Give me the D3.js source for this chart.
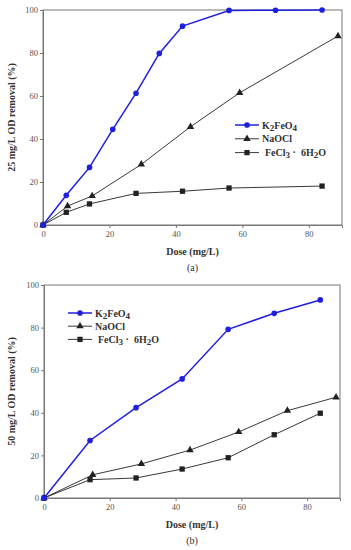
<!DOCTYPE html>
<html><head><meta charset="utf-8">
<script src="https://cdn.jsdelivr.net/npm/d3@7"></script>
<style>body{margin:0;background:#fff}svg{display:block}</style>
</head><body>
<svg id="c" width="351" height="550"></svg>
<script>
// Panel (a): 25 mg/L
const a_k2_x = [0, 7, 14, 21, 28, 35, 42, 56, 70, 84];
const a_k2_y = [0, 13.8, 26.8, 44.5, 61.3, 79.8, 92.5, 99.8, 99.9, 100];
const a_na_x = [0, 7.4, 14.8, 29.6, 44.4, 59.2, 88.8];
const a_na_y = [0, 8.8, 13.5, 28.2, 45.7, 61.5, 87.9];
const a_fe_x = [0, 7, 14, 28, 42, 56, 84];
const a_fe_y = [0, 5.9, 9.8, 14.7, 15.7, 17.2, 18.1];
// Panel (b): 50 mg/L
const b_k2_x = [0, 14, 28, 42, 56, 70, 84];
const b_k2_y = [0, 27, 42.4, 55.9, 79.2, 86.7, 93];
const b_na_x = [0, 14.8, 29.6, 44.4, 59.2, 74, 88.8];
const b_na_y = [0, 10.9, 16, 22.5, 31, 41, 47.3];
const b_fe_x = [0, 14, 28, 42, 56, 70, 84];
const b_fe_y = [0, 8.6, 9.4, 13.6, 18.9, 29.7, 39.8];
const xTicks = [0, 20, 40, 60, 80];
const yTicks = [0, 20, 40, 60, 80, 100];
const legendNames = ["K2FeO4", "NaOCl", "FeCl3 ·  6H2O"];

const svg = d3.select("#c");
const FONT = "'Liberation Serif','Times New Roman',serif";

function panel(opt) {
  const x = d3.scaleLinear().domain([0, 90]).range([opt.l, opt.r]);
  const y = d3.scaleLinear().domain([0, 100]).range([opt.b, opt.t]);
  const g = svg.append("g");
  g.append("rect").attr("x", opt.l).attr("y", opt.t).attr("width", opt.r - opt.l).attr("height", opt.b - opt.t)
    .attr("fill", "none").attr("stroke", "#777").attr("stroke-width", 1);
  const xa = g.append("g").attr("transform", `translate(0,${opt.b})`)
    .call(d3.axisBottom(x).tickValues(xTicks).tickSize(3).tickPadding(3));
  const ya = g.append("g").attr("transform", `translate(${opt.l},0)`)
    .call(d3.axisLeft(y).tickValues(yTicks).tickSize(3).tickPadding(2));
  [xa, ya].forEach(ax => {
    ax.select(".domain").attr("stroke", "#777");
    ax.selectAll(".tick line").attr("stroke", "#777");
    ax.selectAll("text").attr("font-family", FONT).attr("font-size", 8.5).attr("fill", "#555");
  });
  const series = [
    {xs: opt.k2x, ys: opt.k2y, color: "#1f1fe0", w: 1.5, m: "circle"},
    {xs: opt.nax, ys: opt.nay, color: "#222", w: 0.9, m: "triangle"},
    {xs: opt.fex, ys: opt.fey, color: "#222", w: 0.9, m: "square"}
  ];
  const line = d3.line().x(d => x(d[0])).y(d => y(d[1]));
  series.slice().reverse().forEach(s => {
    const pts = s.xs.map((v, i) => [v, s.ys[i]]);
    g.append("path").datum(pts).attr("d", line).attr("fill", "none").attr("stroke", s.color).attr("stroke-width", s.w);
  });
  const sym = {circle: d3.symbolCircle, triangle: d3.symbolTriangle, square: d3.symbolSquare};
  const size = {circle: 25, triangle: 24, square: 28};
  series.slice().reverse().forEach(s => {
    const pts = s.xs.map((v, i) => [v, s.ys[i]]);
    g.selectAll(null).data(pts).enter().append("path")
      .attr("d", d3.symbol().type(sym[s.m]).size(size[s.m]))
      .attr("transform", d => `translate(${x(d[0])},${y(d[1])})`)
      .attr("fill", s.color);
  });
  series.forEach((s, i) => {
    const ly = opt.ly + i * opt.lgap;
    g.append("line").attr("x1", opt.lx).attr("x2", opt.lx + 24).attr("y1", ly).attr("y2", ly)
      .attr("stroke", s.color).attr("stroke-width", s.w);
    g.append("path").attr("d", d3.symbol().type(sym[s.m]).size(size[s.m]))
      .attr("transform", `translate(${opt.lx + 12},${ly})`).attr("fill", s.color);
    const t = g.append("text").attr("x", opt.lx + 27 + (i === 2 ? 3 : 0)).attr("y", ly + 3.5)
      .attr("font-family", FONT).attr("font-size", 10).attr("font-weight", "bold").attr("fill", "#333")
      .attr("xml:space", "preserve").style("white-space", "pre");
    const parts = legendNames[i].match(/\d|[^\d]+/g);
    let prevSub = false;
    parts.forEach(p => {
      const isDigit = /\d/.test(p) && p !== "6";
      const ts = t.append("tspan").text(p);
      if (isDigit) { ts.attr("dy", prevSub ? 0 : 2).attr("font-size", 9); prevSub = true; }
      else if (prevSub) { ts.attr("dy", -2); prevSub = false; }
    });
  });
  g.append("text").attr("x", (opt.l + opt.r) / 2).attr("y", opt.b + 30).attr("text-anchor", "middle")
    .attr("font-family", FONT).attr("font-size", 10).attr("font-weight", "bold").attr("fill", "#333").text("Dose (mg/L)");
  g.append("text").attr("transform", `translate(15,${(opt.t + opt.b) / 2}) rotate(-90)`).attr("text-anchor", "middle")
    .attr("font-family", FONT).attr("font-size", 10).attr("font-weight", "bold").attr("fill", "#333").text(opt.ylabel);
  g.append("text").attr("x", (opt.l + opt.r) / 2).attr("y", opt.b + 46).attr("text-anchor", "middle")
    .attr("font-family", FONT).attr("font-size", 10).attr("fill", "#333").text(opt.tag);
}

panel({l: 43, r: 342, t: 10, b: 225, k2x: a_k2_x, k2y: a_k2_y, nax: a_na_x, nay: a_na_y, fex: a_fe_x, fey: a_fe_y,
  lx: 235, ly: 125, lgap: 13.8, ylabel: "25 mg/L OD removal (%)", tag: "(a)"});
panel({l: 44, r: 340, t: 285, b: 498, k2x: b_k2_x, k2y: b_k2_y, nax: b_na_x, nay: b_na_y, fex: b_fe_x, fey: b_fe_y,
  lx: 68, ly: 313, lgap: 13.2, ylabel: "50 mg/L OD removal (%)", tag: "(b)"});
</script>
</body></html>
